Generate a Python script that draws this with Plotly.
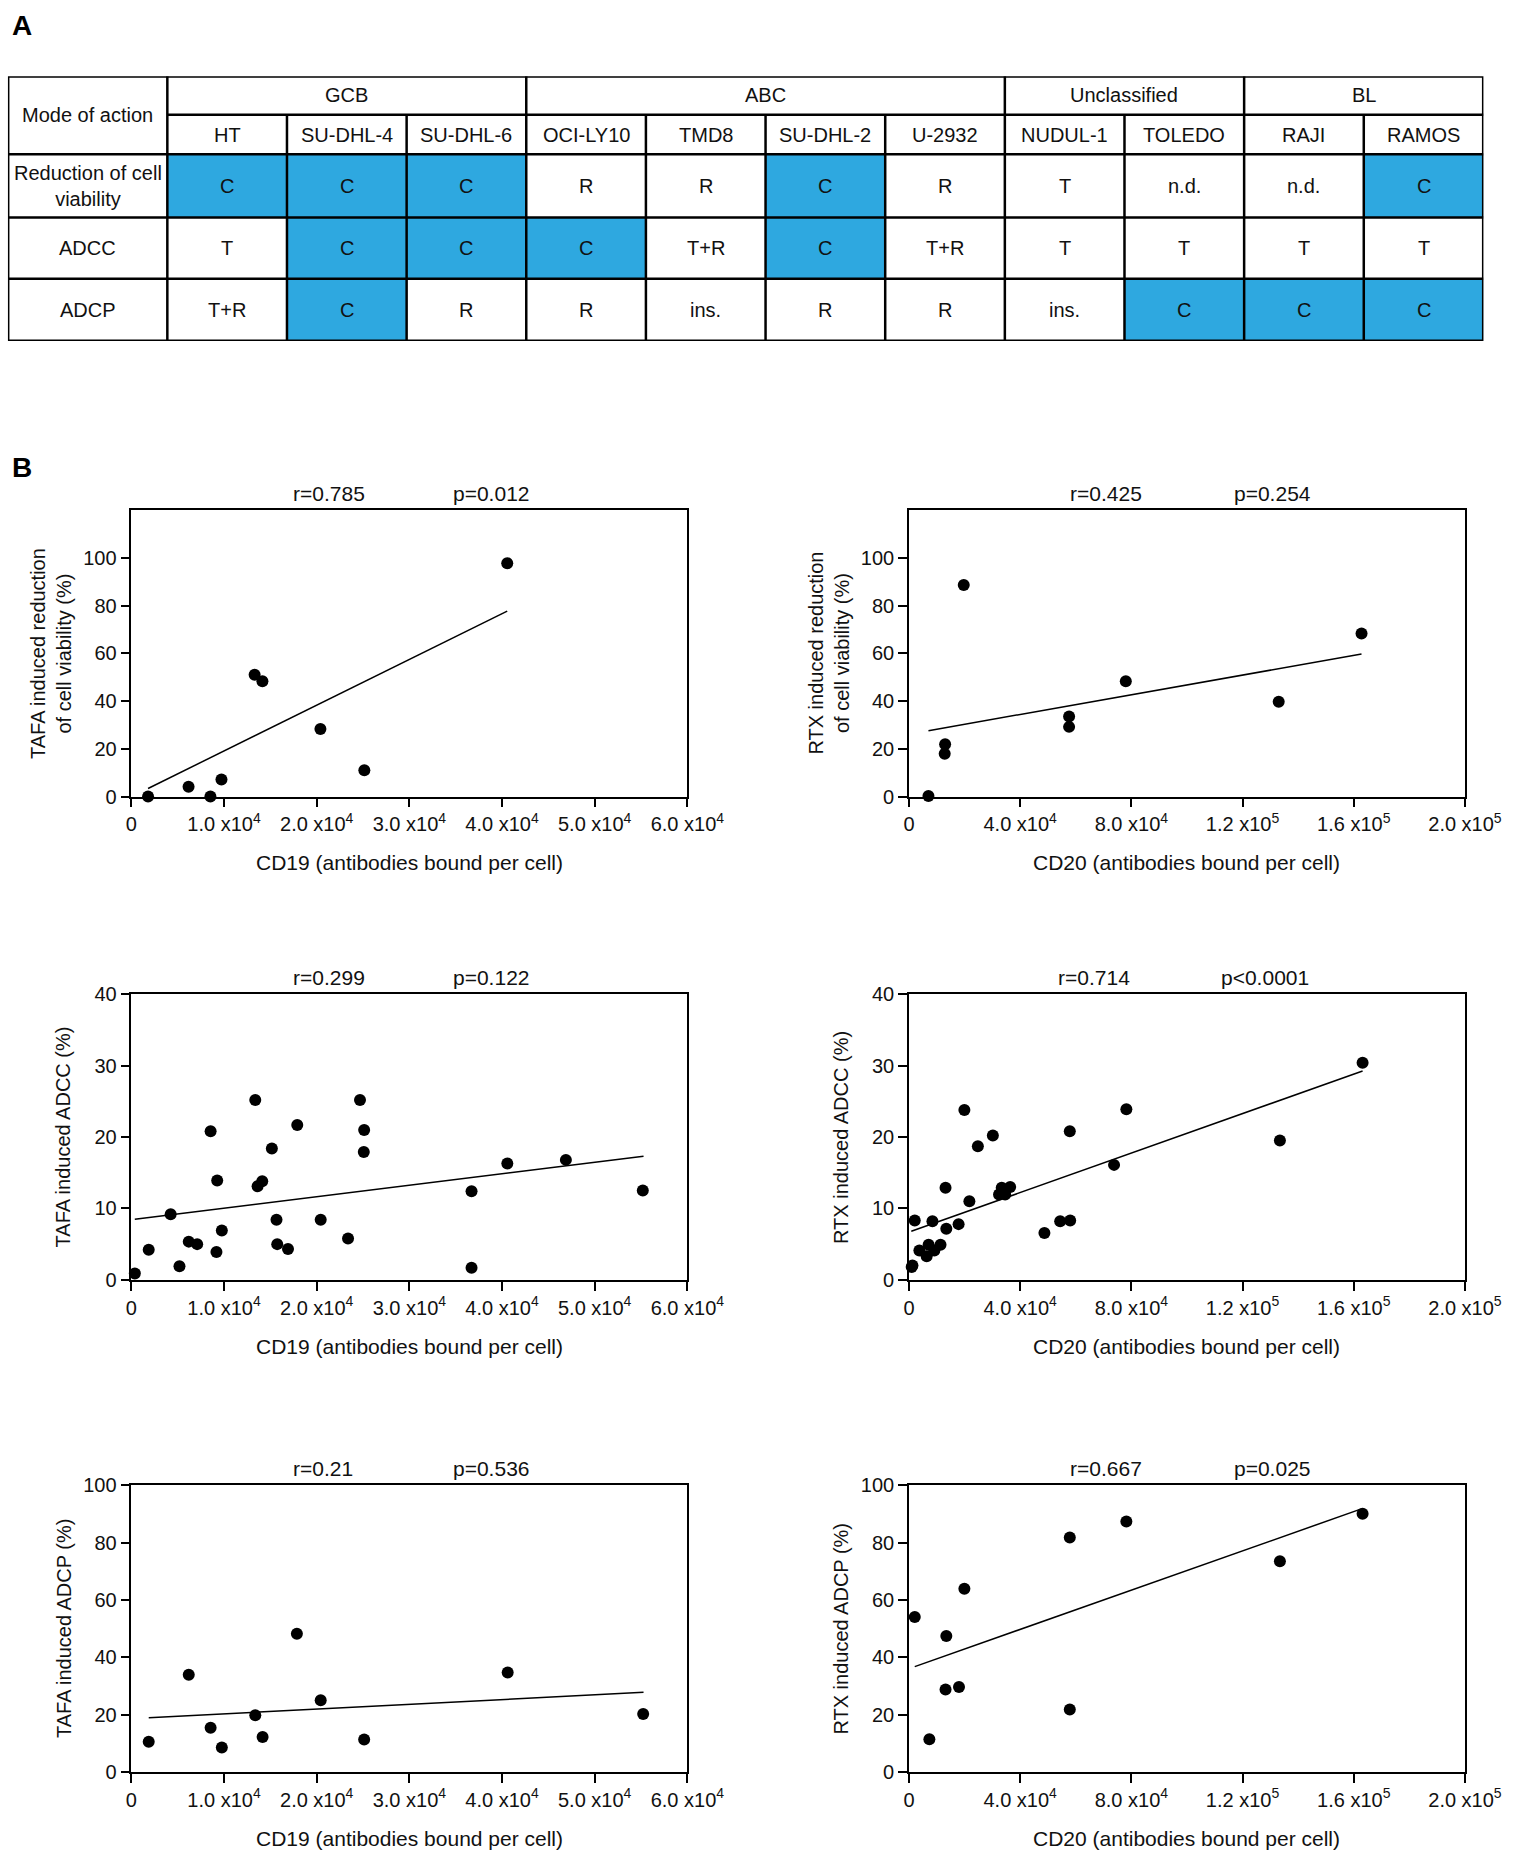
import plotly.graph_objects as go

W, H = 1535, 1861
FONT = "Liberation Sans, Arial, Helvetica, sans-serif"
BLUE = "#2EA8E0"
INK = "#111111"

# ---------------- Table (panel A) data ----------------
GROUPS = ["GCB", "ABC", "Unclassified", "BL"]
GROUP_SPANS = [3, 4, 2, 2]
CELL_LINES = ["HT", "SU-DHL-4", "SU-DHL-6", "OCI-LY10", "TMD8", "SU-DHL-2",
              "U-2932", "NUDUL-1", "TOLEDO", "RAJI", "RAMOS"]
ROW_LABELS = ["Reduction of cell<br>viability", "ADCC", "ADCP"]
VIABILITY = ["C", "C", "C", "R", "R", "C", "R", "T", "n.d.", "n.d.", "C"]
ADCC = ["T", "C", "C", "C", "T+R", "C", "T+R", "T", "T", "T", "T"]
ADCP = ["T+R", "C", "R", "R", "ins.", "R", "R", "ins.", "C", "C", "C"]
TABLE_ROWS = [VIABILITY, ADCC, ADCP]

# ---------------- Scatter (panel B) data ----------------
cd19_via_x = [1800, 6170, 8530, 9720, 13300, 14140, 20400, 25140, 40560]
tafa_via_y = [0, 4.1, 0, 7.2, 51.0, 48.3, 28.3, 11.0, 97.7]
tafa_via_fit_x = [1800, 40560]
tafa_via_fit_y = [3.4, 77.7]

cd20_via_x = [7000, 13000, 12850, 19700, 57600, 57600, 78000, 133000, 162800]
rtx_via_y = [0.3, 21.9, 17.9, 88.6, 33.5, 29.2, 48.3, 39.7, 68.3]
rtx_via_fit_x = [7000, 162800]
rtx_via_fit_y = [27.6, 59.7]

cd19_adcc_x = [370, 1870, 4240, 5190, 6190, 7100, 8550, 9260, 9180, 9760,
               13370, 13620, 14120, 15160, 15660, 15740, 16900, 17900, 20430, 23380,
               24670, 25120, 25080, 36710, 36710, 40570, 46890, 55190]
tafa_adcc_y = [0.9, 4.2, 9.2, 1.9, 5.35, 5.0, 20.8, 13.9, 3.9, 6.9,
               25.2, 13.1, 13.8, 18.4, 8.4, 5.0, 4.3, 21.7, 8.4, 5.8,
               25.2, 21.0, 17.9, 12.4, 1.7, 16.3, 16.8, 12.5]
tafa_adcc_fit_x = [370, 55270]
tafa_adcc_fit_y = [8.5, 17.3]

cd20_adcc_x = [970, 1250, 2080, 3740, 6370, 7060, 8440, 9130, 11350, 13150,
               13430, 17850, 19930, 21730, 24780, 30170, 32390, 33360, 34600, 36400,
               48720, 54390, 57850, 57990, 73770, 78200, 133430, 163180]
rtx_adcc_y = [1.8, 2.0, 8.3, 4.1, 3.3, 4.9, 8.2, 4.1, 4.9, 12.9,
              7.15, 7.8, 23.8, 11.0, 18.7, 20.2, 11.95, 12.9, 11.95, 13.0,
              6.55, 8.2, 20.8, 8.3, 16.1, 23.9, 19.5, 30.4]
rtx_adcc_fit_x = [830, 163180]
rtx_adcc_fit_y = [6.8, 29.25]

cd19_adcp_x = [1870, 6190, 8550, 9760, 13370, 14160, 17860, 20430, 25120, 40610, 55230]
tafa_adcp_y = [10.5, 33.9, 15.4, 8.5, 19.8, 12.2, 48.2, 25.0, 11.3, 34.7, 20.2]
tafa_adcp_fit_x = [1870, 55270]
tafa_adcp_fit_y = [18.9, 27.8]

cd20_adcp_x = [2080, 7340, 13430, 13150, 17990, 19930, 57850, 57850, 78200, 133430, 163180]
rtx_adcp_y = [54.1, 11.4, 47.4, 28.8, 29.6, 63.9, 81.8, 21.8, 87.4, 73.5, 90.1]
rtx_adcp_fit_x = [2080, 162490]
rtx_adcp_fit_y = [36.75, 91.7]

CD19_TICKS = [0, 10000, 20000, 30000, 40000, 50000, 60000]
CD19_TICKTEXT = ["0", "1.0 x10<sup>4</sup>", "2.0 x10<sup>4</sup>", "3.0 x10<sup>4</sup>",
                 "4.0 x10<sup>4</sup>", "5.0 x10<sup>4</sup>", "6.0 x10<sup>4</sup>"]
CD20_TICKS = [0, 40000, 80000, 120000, 160000, 200000]
CD20_TICKTEXT = ["0", "4.0 x10<sup>4</sup>", "8.0 x10<sup>4</sup>", "1.2 x10<sup>5</sup>",
                 "1.6 x10<sup>5</sup>", "2.0 x10<sup>5</sup>"]

STATS = [("r=0.785", "p=0.012"), ("r=0.425", "p=0.254"),
         ("r=0.299", "p=0.122"), ("r=0.714", "p<0.0001"),
         ("r=0.21", "p=0.536"), ("r=0.667", "p=0.025")]

YTITLES = ["TAFA induced reduction<br>of cell viability (%)",
           "RTX induced reduction<br>of cell viability (%)",
           "TAFA induced ADCC (%)", "RTX induced ADCC (%)",
           "TAFA induced ADCP (%)", "RTX induced ADCP (%)"]
XTITLES = ["CD19 (antibodies bound per cell)", "CD20 (antibodies bound per cell)"]

# ---------------- layout geometry (pixels) ----------------
COL_X = [(129, 701), (929, 1501)]
ROW_Y = [(505, 795), (995, 1284), (1492, 1782)]
Y_RANGES = [(0, 120), (0, 40), (0, 100)]
Y_TICKS = [[0, 20, 40, 60, 80, 100], [0, 10, 20, 30, 40], [0, 20, 40, 60, 80, 100]]
R_LEFT = [293, 1093, 293, 1080, 293, 1093]
P_LEFT = [458, 1261, 458, 1248, 458, 1261]


def fx(p):
    return p / W


def fy(p):
    return 1 - p / H


panels = [
    (cd19_via_x, tafa_via_y, tafa_via_fit_x, tafa_via_fit_y),
    (cd20_via_x, rtx_via_y, rtx_via_fit_x, rtx_via_fit_y),
    (cd19_adcc_x, tafa_adcc_y, tafa_adcc_fit_x, tafa_adcc_fit_y),
    (cd20_adcc_x, rtx_adcc_y, rtx_adcc_fit_x, rtx_adcc_fit_y),
    (cd19_adcp_x, tafa_adcp_y, tafa_adcp_fit_x, tafa_adcp_fit_y),
    (cd20_adcp_x, rtx_adcp_y, rtx_adcp_fit_x, rtx_adcp_fit_y),
]

fig = go.Figure()
layout = dict(width=W, height=H, autosize=False,
              margin=dict(l=0, r=0, t=0, b=0),
              paper_bgcolor="white", plot_bgcolor="white",
              showlegend=False, font=dict(family=FONT, color=INK, size=20))
annotations = []
shapes = []

for i, (xs, ys, fxs, fys) in enumerate(panels):
    n = i + 1
    row, col = divmod(i, 2)
    x0, x1 = COL_X[col]
    y0, y1 = ROW_Y[row]
    xa = "x" if n == 1 else f"x{n}"
    ya = "y" if n == 1 else f"y{n}"
    fig.add_trace(go.Scatter(x=fxs, y=fys, mode="lines", xaxis=xa, yaxis=ya,
                             line=dict(color="black", width=1.5), hoverinfo="skip"))
    fig.add_trace(go.Scatter(x=xs, y=ys, mode="markers", xaxis=xa, yaxis=ya,
                             marker=dict(color="black", size=12), cliponaxis=False))
    xt = CD19_TICKS if col == 0 else CD20_TICKS
    xtt = CD19_TICKTEXT if col == 0 else CD20_TICKTEXT
    axstyle = dict(showline=True, linecolor="black", linewidth=1.5, mirror=True,
                   ticks="outside", ticklen=9, tickwidth=1.5, tickcolor="black",
                   showgrid=False, zeroline=False,
                   tickfont=dict(family=FONT, size=20, color=INK))
    layout["xaxis" if n == 1 else f"xaxis{n}"] = dict(
        domain=[fx(x0), fx(x1)], anchor=ya, range=[0, xt[-1]],
        tickmode="array", tickvals=xt, ticktext=xtt, **axstyle)
    layout["yaxis" if n == 1 else f"yaxis{n}"] = dict(
        domain=[fy(y1), fy(y0)], anchor=xa, range=list(Y_RANGES[row]),
        tickmode="array", tickvals=Y_TICKS[row],
        ticktext=[str(v) for v in Y_TICKS[row]], **axstyle)
    r_txt, p_txt = STATS[i]
    for txt, left in ((r_txt, R_LEFT[i]), (p_txt, P_LEFT[i])):
        annotations.append(dict(text=txt, x=fx(left), y=fy(y0 - 17), xref="paper", yref="paper",
                                xanchor="left", yanchor="middle", showarrow=False,
                                font=dict(family=FONT, size=21, color=INK)))
    annotations.append(dict(text=XTITLES[col], x=fx((x0 + x1) / 2), y=fy(y1 + 67),
                            xref="paper", yref="paper", xanchor="center", yanchor="middle",
                            showarrow=False, font=dict(family=FONT, size=21, color=INK)))
    two = "<br>" in YTITLES[i]
    annotations.append(dict(text=YTITLES[i], x=fx(x0 - (82 if two else 70)), y=fy((y0 + y1) / 2),
                            xref="paper", yref="paper", xanchor="center", yanchor="middle",
                            textangle=-90, showarrow=False,
                            font=dict(family=FONT, size=20, color=INK)))

# ---------------- Table ----------------
ncol = len(CELL_LINES)
FIRST_W = -1.3322
ROW_EDGES = [0, 39, 79, 143, 205, 268]
z = [[1 if v == "C" else 0 for v in r] for r in TABLE_ROWS]
fig.add_trace(go.Heatmap(z=z, x=list(range(ncol + 1)), y=ROW_EDGES[2:],
                         xaxis="x7", yaxis="y7", colorscale=[[0, "white"], [1, BLUE]],
                         zmin=0, zmax=1, showscale=False, hoverinfo="skip"))
layout["xaxis7"] = dict(domain=[fx(2), fx(1520)], anchor="y7", range=[FIRST_W, ncol],
                        visible=False, fixedrange=True)
layout["yaxis7"] = dict(domain=[fy(334), fy(66)], anchor="x7",
                        range=[ROW_EDGES[-1], ROW_EDGES[0]], visible=False, fixedrange=True)

LW = 2.5
line = dict(color="black", width=LW)
shapes.append(dict(type="rect", xref="x7", yref="y7", x0=FIRST_W, x1=ncol,
                   y0=ROW_EDGES[0], y1=ROW_EDGES[-1], line=dict(color="black", width=3)))
shapes.append(dict(type="line", xref="x7", yref="y7", x0=0, x1=ncol,
                   y0=ROW_EDGES[1], y1=ROW_EDGES[1], line=line))
for yv in ROW_EDGES[2:-1]:
    shapes.append(dict(type="line", xref="x7", yref="y7", x0=FIRST_W, x1=ncol,
                       y0=yv, y1=yv, line=line))
group_bounds = [0]
for s in GROUP_SPANS:
    group_bounds.append(group_bounds[-1] + s)
for xv in range(ncol):
    top = ROW_EDGES[0] if xv in group_bounds else ROW_EDGES[1]
    shapes.append(dict(type="line", xref="x7", yref="y7", x0=xv, x1=xv,
                       y0=top, y1=ROW_EDGES[-1], line=line))

tfont = dict(family=FONT, size=20, color=INK)
annotations.append(dict(text="Mode of action", x=FIRST_W / 2, y=(ROW_EDGES[0] + ROW_EDGES[2]) / 2,
                        xref="x7", yref="y7", showarrow=False, font=tfont))
for g, (name, s) in enumerate(zip(GROUPS, GROUP_SPANS)):
    annotations.append(dict(text=name, x=(group_bounds[g] + group_bounds[g + 1]) / 2,
                            y=(ROW_EDGES[0] + ROW_EDGES[1]) / 2, xref="x7", yref="y7",
                            showarrow=False, font=tfont))
for c, name in enumerate(CELL_LINES):
    annotations.append(dict(text=name, x=c + 0.5, y=(ROW_EDGES[1] + ROW_EDGES[2]) / 2,
                            xref="x7", yref="y7", showarrow=False, font=tfont))
for r, (lab, vals) in enumerate(zip(ROW_LABELS, TABLE_ROWS)):
    yc = (ROW_EDGES[r + 2] + ROW_EDGES[r + 3]) / 2
    annotations.append(dict(text=lab, x=FIRST_W / 2, y=yc, xref="x7", yref="y7",
                            showarrow=False, font=tfont))
    for c, v in enumerate(vals):
        annotations.append(dict(text=v, x=c + 0.5, y=yc, xref="x7", yref="y7",
                                showarrow=False, font=tfont))

for letter, py in (("A", 15), ("B", 462)):
    annotations.append(dict(text=f"<b>{letter}</b>", x=fx(4), y=fy(py), xref="paper", yref="paper",
                            xanchor="left", yanchor="middle", showarrow=False,
                            font=dict(family=FONT, size=28, color="black")))

layout["annotations"] = annotations
layout["shapes"] = shapes
fig.update_layout(**layout)
fig.write_html("out.html", config={"displayModeBar": False},
               post_script="document.body.style.margin='0';document.body.style.padding='0';")
